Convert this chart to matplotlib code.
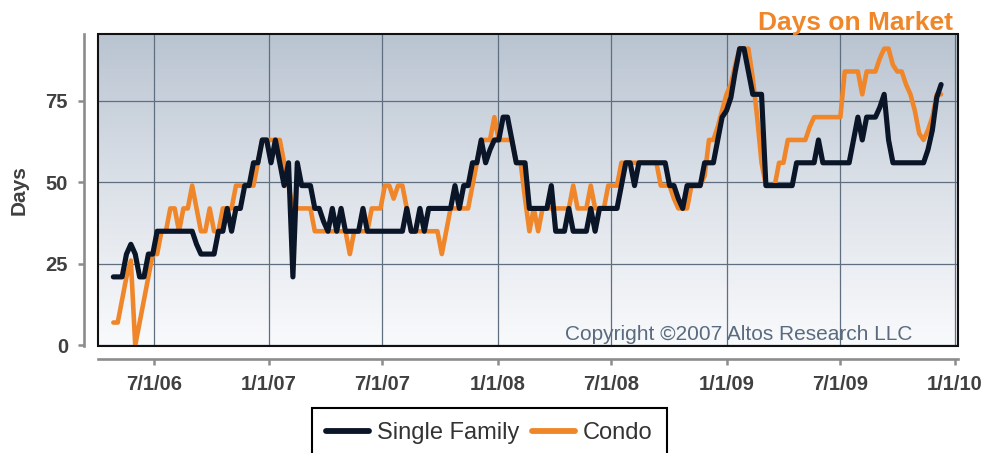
import matplotlib
matplotlib.use('Agg')
import matplotlib.pyplot as plt
import matplotlib.dates as mdates
import numpy as np
import pandas as pd
from matplotlib.patches import Rectangle
from matplotlib.lines import Line2D
from matplotlib.colors import LinearSegmentedColormap

# ---------------- data ----------------
start_date = "2006-04-27"   # weekly series

single_family = [
    21, 21, 21, 28, 31, 28, 21, 21, 28, 28,
    35, 35, 35, 35, 35, 35, 35, 35, 35, 31,
    28, 28, 28, 28, 35, 35, 42, 35, 42, 42,
    49, 49, 56, 56, 63, 63, 56, 63, 56, 49,
    56, 21, 56, 49, 49, 49, 42, 42, 38, 35,
    42, 35, 42, 35, 35, 35, 35, 42, 35, 35,
    35, 35, 35, 35, 35, 35, 35, 42, 35, 35,
    42, 35, 42, 42, 42, 42, 42, 42, 49, 42,
    49, 49, 56, 56, 63, 56, 60, 63, 63, 70,
    70, 63, 56, 56, 56, 42, 42, 42, 42, 42,
    49, 35, 35, 35, 42, 35, 35, 35, 35, 42,
    35, 42, 42, 42, 42, 42, 49, 56, 56, 49,
    56, 56, 56, 56, 56, 56, 56, 49, 49, 45,
    42, 49, 49, 49, 49, 56, 56, 56, 63, 70,
    72, 76, 84, 91, 91, 84, 77, 77, 77, 49,
    49, 49, 49, 49, 49, 49, 56, 56, 56, 56,
    56, 63, 56, 56, 56, 56, 56, 56, 56, 63,
    70, 63, 70, 70, 70, 73, 77, 63, 56, 56,
    56, 56, 56, 56, 56, 56, 60, 66, 76, 80,
]

condo = [
    7, 7, 14, 21, 26, 0, 7, 14, 21, 28,
    28, 35, 35, 42, 42, 35, 42, 42, 49, 42,
    35, 35, 42, 35, 35, 42, 42, 42, 49, 49,
    49, 49, 49, 56, 63, 63, 63, 63, 63, 56,
    49, 42, 42, 42, 42, 42, 35, 35, 35, 35,
    35, 35, 35, 35, 28, 35, 35, 35, 35, 42,
    42, 42, 49, 49, 45, 49, 49, 42, 35, 35,
    35, 35, 35, 35, 35, 28, 35, 42, 42, 42,
    42, 42, 49, 56, 63, 63, 63, 70, 63, 63,
    63, 63, 56, 56, 45, 35, 42, 35, 42, 42,
    42, 42, 42, 42, 42, 49, 42, 42, 42, 49,
    42, 42, 42, 49, 49, 49, 56, 56, 56, 56,
    56, 56, 56, 56, 56, 49, 49, 49, 45, 42,
    42, 42, 49, 49, 49, 52, 63, 63, 67, 72,
    77, 80, 86, 91, 91, 91, 82, 70, 56, 49,
    49, 49, 56, 56, 63, 63, 63, 63, 63, 67,
    70, 70, 70, 70, 70, 70, 70, 84, 84, 84,
    84, 77, 84, 84, 84, 88, 91, 91, 86, 84,
    84, 80, 77, 72, 65, 63, 66, 70, 77, 77,
]

xtick_dates = ["2006-07-01", "2007-01-01", "2007-07-01", "2008-01-01",
               "2008-07-01", "2009-01-01", "2009-07-01", "2010-01-01"]
xtick_labels = ["7/1/06", "1/1/07", "7/1/07", "1/1/08",
                "7/1/08", "1/1/09", "7/1/09", "1/1/10"]
ytick_values = [0, 25, 50, 75]
series_names = ["Single Family", "Condo"]

# ---------------- style ----------------
plt.rcParams['font.family'] = ['Liberation Sans', 'DejaVu Sans']

SF_COLOR = '#0b1528'
CONDO_COLOR = '#f0862a'
LABEL_COLOR = '#404040'
AXIS_GRAY = '#8c8c8c'
GRID_COLOR = '#5f6f80'

fig = plt.figure(figsize=(9.84, 4.53), dpi=100)
ax = fig.add_axes([97.7 / 984, 1 - 346 / 453, (958 - 97.7) / 984, (346 - 34) / 453])

dates = pd.date_range(start_date, periods=len(single_family), freq='7D')
x = mdates.date2num(dates.to_pydatetime())

xmin = mdates.date2num(pd.Timestamp("2006-04-02"))
xmax = mdates.date2num(pd.Timestamp("2010-01-06"))
ymin, ymax = -0.2, 95.5

# gradient background
cmap = LinearSegmentedColormap.from_list('bg', ['#f9fafc', '#dde2e9', '#b9c4d1'])
grad = np.linspace(0, 1, 256).reshape(-1, 1)
ax.imshow(grad, extent=[xmin, xmax, ymin, ymax], origin='lower', aspect='auto',
          cmap=cmap, zorder=0, interpolation='bicubic')

ax.plot(x, condo, color=CONDO_COLOR, lw=3.3, solid_joinstyle='round',
        solid_capstyle='round', zorder=3)
ax.plot(x, single_family, color=SF_COLOR, lw=3.7, solid_joinstyle='round',
        solid_capstyle='round', zorder=4)

ax.set_xlim(xmin, xmax)
ax.set_ylim(ymin, ymax)

ax.set_xticks(mdates.date2num([pd.Timestamp(d) for d in xtick_dates]))
ax.set_xticklabels(xtick_labels)
ax.set_yticks(ytick_values)
ax.set_yticklabels([str(v) for v in ytick_values])

ax.grid(True, color=GRID_COLOR, lw=0.9)
ax.set_axisbelow('line')
for gl in ax.get_xgridlines() + ax.get_ygridlines():
    gl.set_zorder(1)

for s in ['top', 'right']:
    ax.spines[s].set_visible(False)
ax.spines['left'].set_position(('outward', 9.9))
ax.spines['bottom'].set_position(('outward', 9.4))
for s in ['left', 'bottom']:
    ax.spines[s].set_color(AXIS_GRAY)
    ax.spines[s].set_linewidth(1.9)

ax.tick_params(axis='both', direction='out', length=4.5, width=1.8,
               color=AXIS_GRAY, labelsize=14.5, labelcolor=LABEL_COLOR, pad=7)
for lab in ax.get_xticklabels() + ax.get_yticklabels():
    lab.set_fontweight('bold')

ax.add_patch(Rectangle((0, 0), 1, 1, transform=ax.transAxes, fill=False,
                       ec='#111111', lw=1.5, zorder=6, clip_on=False))

ax.text(0.9465, 0.019, 'Copyright \u00a92007 Altos Research LLC',
        transform=ax.transAxes, ha='right', va='baseline', fontsize=15,
        color='#5a6b80', zorder=5)

fig.text(19 / 984, 1 - 190 / 453, 'Days', rotation=90, ha='center', va='center',
         fontsize=15, fontweight='bold', color=LABEL_COLOR)
fig.text(953 / 984, 1 - 30 / 453, 'Days on Market', ha='right', va='baseline',
         fontsize=19, fontweight='bold', color=CONDO_COLOR)

handles = [Line2D([], [], color=SF_COLOR, lw=4.2, solid_capstyle='round'),
           Line2D([], [], color=CONDO_COLOR, lw=4.2, solid_capstyle='round')]
leg = fig.legend(handles, series_names, loc='upper left',
                 bbox_to_anchor=(312 / 984, 1 - 408 / 453), ncol=2,
                 frameon=True, fancybox=False, edgecolor='black', framealpha=1,
                 fontsize=17, handlelength=1.8, handletextpad=0.35,
                 columnspacing=0.55, borderpad=0.6, borderaxespad=0)
leg.get_frame().set_linewidth(1.5)
for t in leg.get_texts():
    t.set_color('#333333')

fig.savefig('out.png', dpi=100)
